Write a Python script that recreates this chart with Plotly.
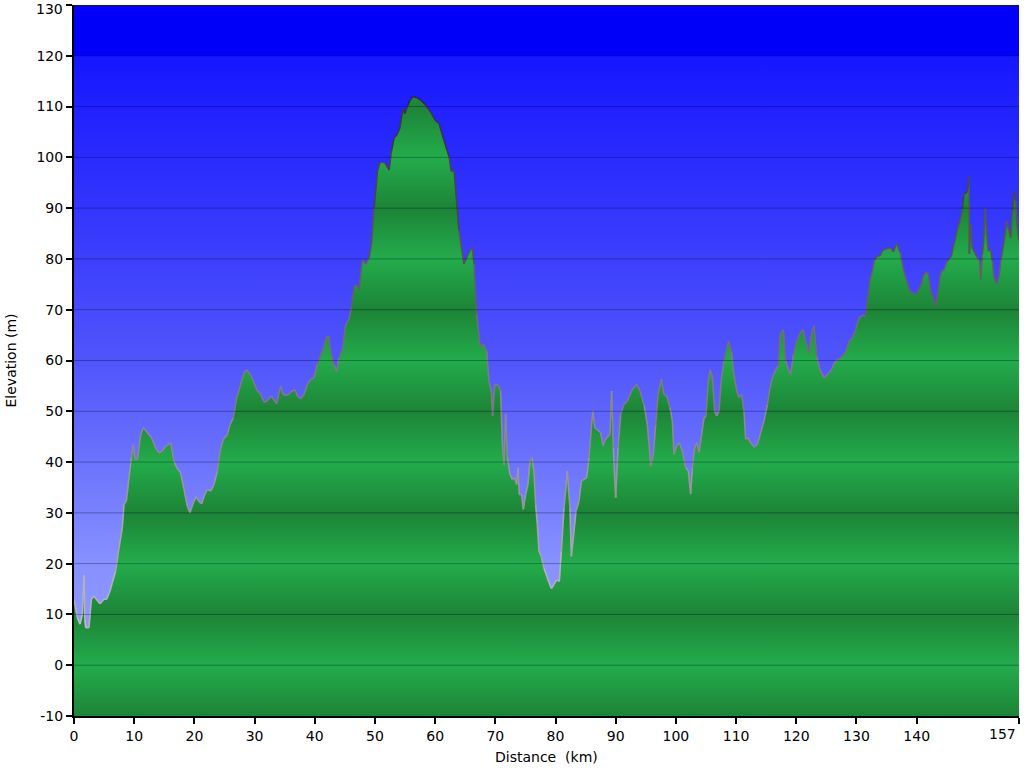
import plotly.graph_objects as go

# ---------------- data ----------------
distance_km = [
    0.0, 0.55, 1.0, 1.38, 1.66, 1.8, 1.94, 2.49, 2.88, 3.32, 4.32, 4.98, 5.43, 5.98, 6.37, 6.92,
    7.48, 8.03, 8.31, 8.69, 9.14, 9.53, 9.86, 10.13, 10.52, 11.08, 11.52, 12.18, 12.85, 13.57,
    14.12, 14.68, 15.23, 16.06, 16.61, 17.06, 17.72, 18.28, 18.83, 19.27, 19.83, 20.27, 20.77,
    21.21, 21.71, 22.15, 22.71, 23.26, 23.81, 24.26, 24.81, 25.47, 25.92, 26.47, 27.03, 27.69,
    28.24, 28.69, 29.35, 29.91, 30.46, 30.90,
    31.57, 32.01, 32.79, 33.67, 34.34, 34.78, 35.56, 36.0, 36.72, 37.11, 37.66, 38.22, 38.77,
    39.32, 39.88, 40.43, 41.1, 41.54, 41.87, 42.31, 42.65, 43.2, 43.64, 44.03, 44.64, 45.14,
    45.69, 46.08, 46.52, 46.97, 47.35, 47.91, 48.46, 49.01, 49.4, 49.85, 50.4, 50.84, 51.62,
    52.34, 52.73, 53.17, 53.61, 54.11, 54.66, 54.94, 55.49, 55.94, 56.38, 56.93, 57.6, 58.43,
    59.26, 60.09, 60.64, 61.2, 62.03, 62.31, 62.69, 63.14,
    63.96, 64.79, 65.62, 66.18, 66.45, 66.9, 67.45, 68.11, 68.56, 68.94, 69.33, 69.55, 69.89,
    70.44, 70.88, 71.16, 71.44, 71.71, 71.99, 72.43, 72.82, 73.21, 73.54, 73.76, 73.98, 74.37,
    74.65, 75.04, 75.42, 75.76, 76.09, 76.42, 76.7, 76.98, 77.25, 77.64, 78.08, 78.64, 79.3,
    79.74, 80.19, 80.63, 80.96, 81.41, 81.96, 82.4, 82.62, 82.96, 83.4, 83.9, 84.29, 84.73,
    85.17, 85.56, 85.95, 86.22, 86.5, 86.94, 87.5, 87.88, 88.33, 89.05, 89.32, 89.6, 89.99,
    90.38, 90.82, 91.37, 91.93, 92.76, 93.48, 94.03,
    94.7, 95.25, 95.53, 95.81, 96.25, 96.64, 97.03, 97.58, 98.02, 98.47, 99.02, 99.41, 99.68,
    100.13, 100.57, 101.07, 101.62, 102.07, 102.45, 102.73, 103.12, 103.45, 103.84, 104.23,
    104.67, 105.0, 105.33, 105.67, 106.05, 106.44, 106.77, 107.16, 107.55, 107.99, 108.43,
    108.77, 109.21, 109.65, 110.1, 110.48, 110.93, 111.31, 111.59, 111.98, 112.42, 112.98,
    113.53, 114.08, 114.64, 115.19, 115.63, 116.02, 116.58, 117.02, 117.3, 117.85, 118.24,
    118.62, 119.07, 119.51, 120.06, 120.62, 121.12, 121.56, 122.11, 122.5, 122.94, 123.39,
    123.94, 124.61, 125.44, 125.99,
    126.27, 126.93, 127.65, 128.21, 128.76, 129.32, 129.87, 130.42, 130.98, 131.53, 131.81,
    132.25, 132.64, 133.03, 133.47, 133.91, 134.3, 134.85, 135.41, 135.8, 136.13, 136.68,
    137.24, 137.79, 138.34, 138.9, 139.45, 140.0, 140.45, 140.84, 141.11, 141.5, 141.94,
    142.33, 142.77, 143.16, 143.55, 143.99, 144.55, 145.1, 145.76, 146.1, 146.48, 146.87,
    147.2, 147.59, 147.87, 148.31, 148.53, 148.7, 148.75, 148.98, 149.25, 149.64, 150.08,
    150.47, 150.64, 150.91, 151.19, 151.41, 151.63, 151.91, 152.3, 152.58, 152.85, 153.3,
    153.68, 154.07, 154.51, 154.96, 155.23, 155.62, 155.9, 156.17, 156.45, 156.73, 157.0,
]
elevation_m = [
    13.0, 9.4, 8.1, 10.0, 17.7, 9.0, 7.4, 7.4, 13.0, 13.6, 12.1, 13.0, 13.0, 14.6, 16.3, 18.6,
    23.1, 27.1, 31.7, 32.3, 36.9, 40.9, 43.5, 40.5, 40.5, 45.4, 46.8, 45.8, 44.9, 42.8,
    41.8, 42.2, 43.1, 43.8, 40.2, 38.9, 37.9, 34.6, 31.3, 30.0, 32.0, 33.2, 32.2,
    31.8, 33.6, 34.6, 34.3, 35.6, 38.2, 42.2, 44.5, 45.4, 47.4, 48.7, 52.7, 55.3,
    57.6, 58.2, 57.2, 55.6, 54.0, 53.6,
    51.8, 52.0, 53.0, 51.5, 55.0, 53.2, 53.2, 53.8, 54.3, 53.0, 52.5, 53.3, 55.3,
    56.3, 56.6, 59.2, 61.5, 62.8, 64.6, 64.8, 61.8, 59.2, 57.8, 60.5, 62.5, 67.1,
    68.1, 70.4, 74.6, 74.9, 74.0, 79.9, 79.0, 80.2, 82.8, 90.0, 97.2, 99.1, 99.0,
    97.5, 101.2, 103.8, 104.4, 105.7, 109.7, 108.6, 110.3, 111.5, 112.0, 111.8, 111.3, 110.3,
    108.9, 107.2, 106.7, 104.4, 101.2, 100.2, 97.2, 97.5,
    85.6, 79.0, 81.3, 82.3, 79.0, 69.1, 62.9, 63.2, 61.9, 56.0, 54.0, 49.1, 55.3,
    55.2, 54.0, 43.5, 39.5, 49.4, 40.9, 37.6, 36.6, 36.9, 35.6, 38.9, 33.6, 33.6,
    30.7, 33.6, 35.6, 40.2, 40.9, 38.2, 31.6, 27.7, 22.4, 21.4, 19.1, 17.2, 15.1,
    15.9, 16.8, 16.5, 22.4, 31.0, 38.2, 31.0, 21.4, 25.1, 30.3, 32.3, 36.3, 36.6,
    36.9, 40.9, 46.8, 50.1, 46.8, 46.4, 45.8, 43.2, 44.5, 45.5, 54.0, 42.8, 33.0,
    42.8, 49.4, 51.4, 52.0, 54.3, 55.3, 54.0,
    51.3, 47.4, 43.5, 39.2, 41.5, 47.4, 53.3, 56.3, 53.3, 53.0, 50.7, 48.1, 41.5,
    43.2, 43.8, 42.2, 38.9, 38.3, 33.7, 38.9, 42.8, 43.8, 41.9, 45.1,
    48.7, 49.1, 55.3, 58.2, 56.9, 50.0, 49.1, 50.0, 56.3, 59.9, 62.5,
    63.8, 61.8, 57.2, 54.0, 52.7, 53.3, 50.0, 44.5, 44.8, 43.8, 43.0,
    43.5, 45.8, 48.1, 51.3, 54.6, 56.6, 58.2, 58.9, 65.1, 66.1, 59.9,
    58.5, 57.2, 61.2, 63.8, 65.4, 66.1, 63.8, 61.5, 65.1, 66.9, 60.8,
    58.2, 56.6, 57.6, 58.5,
    59.5, 60.2, 60.9, 61.8, 63.8, 64.5, 66.1, 68.4, 68.9, 68.8, 71.7,
    76.0, 77.6, 79.9, 80.6, 80.6, 81.7, 82.0, 82.2, 82.1, 81.4, 83.2,
    81.3, 78.0, 75.7, 73.7, 73.2, 73.3, 74.3, 75.3, 76.6, 77.5, 77.0,
    73.7, 72.4, 70.7, 73.7, 77.3, 78.0, 79.6, 80.6, 82.6, 84.2, 86.5,
    87.5, 89.8, 92.9, 93.0, 94.1, 96.2, 81.0, 86.8, 82.2, 81.3, 80.3,
    79.6, 76.0, 80.9, 84.9, 90.1, 85.5, 81.6, 81.9, 79.6, 76.3, 75.1,
    76.6, 80.3, 83.6, 87.5, 86.2, 84.2, 89.5, 93.4, 91.4, 86.2, 83.6,
]

x_range = [0, 157]
y_range = [-10, 130]
x_tickvals = [0, 10, 20, 30, 40, 50, 60, 70, 80, 90, 100, 110, 120, 130, 140, 157]
y_tickvals = list(range(-10, 131, 10))
x_title = "Distance\u00a0\u00a0(km)"
y_title = "Elevation (m)"

FONT = "DejaVu Sans, Verdana, sans-serif"
FS = 14

fig = go.Figure()

def frac(v):
    return (v - y_range[0]) / (y_range[1] - y_range[0])

# ---------------- sky background (vertical gradient) ----------------
sky_scale = [
    [0.0, "rgb(150,160,255)"],
    [frac(20), "rgb(135,145,255)"],
    [frac(60), "rgb(80,85,250)"],
    [frac(119.9), "rgb(22,22,255)"],
    [frac(120), "rgb(0,0,250)"],
    [1.0, "rgb(0,0,250)"],
]
fig.add_trace(go.Scatter(
    x=[x_range[0], x_range[1], x_range[1], x_range[0]],
    y=[y_range[0], y_range[0], y_range[1], y_range[1]],
    mode="none", fill="toself",
    fillgradient=dict(type="vertical", colorscale=sky_scale,
                      start=y_range[0], stop=y_range[1]),
    hoverinfo="skip", showlegend=False,
))

# ---------------- green terrain fill with 20 m banding ----------------
light_g = "rgb(35,172,75)"
dark_g = "rgb(29,132,55)"
green_scale = [[frac(v), dark_g if (v // 10) % 2 else light_g] for v in y_tickvals]
fig.add_trace(go.Scatter(
    x=distance_km + [x_range[1], x_range[0]],
    y=elevation_m + [y_range[0], y_range[0]],
    mode="none", fill="toself",
    fillgradient=dict(type="vertical", colorscale=green_scale,
                      start=y_range[0], stop=y_range[1]),
    hoverinfo="skip", showlegend=False,
))

# ---------------- outline, grey shade depending on height ----------------
bins = {}
for i in range(len(distance_km) - 1):
    mid = (elevation_m[i] + elevation_m[i + 1]) / 2
    b = int(mid // 10)
    xs, ys = bins.setdefault(b, ([], []))
    xs += [distance_km[i], distance_km[i + 1], None]
    ys += [elevation_m[i], elevation_m[i + 1], None]
for b, (xs, ys) in sorted(bins.items()):
    m = b * 10 + 5
    g = int(max(45, min(190, 200 - 1.35 * m)))
    fig.add_trace(go.Scatter(
        x=xs, y=ys, mode="lines",
        line=dict(color=f"rgb({g},{g},{g})", width=1.6),
        hoverinfo="skip", showlegend=False,
    ))

# ---------------- grid lines drawn above the fills ----------------
shapes = [dict(type="line", xref="paper", x0=0, x1=1, yref="y", y0=v, y1=v,
               line=dict(color="rgba(0,0,30,0.32)", width=1), layer="above")
          for v in y_tickvals[1:-1]]

# edge labels placed as annotations so they stay inside the picture
x_ticktext = [str(v) for v in x_tickvals]
last_label = x_ticktext[-1]
x_ticktext[-1] = ""
y_ticktext = [str(v) for v in y_tickvals]
top_label = y_ticktext[-1]
y_ticktext[-1] = ""

annotations = [
    dict(text=y_title, xref="paper", yref="paper", x=0, y=0.5, xanchor="center",
         yanchor="middle", xshift=-64, textangle=-90, showarrow=False,
         font=dict(family=FONT, size=FS, color="black")),
    dict(text=x_title, xref="paper", yref="paper", x=0.5, y=0, xanchor="center",
         yanchor="middle", yshift=-41, showarrow=False,
         font=dict(family=FONT, size=FS, color="black")),
    dict(text=top_label, xref="paper", yref="y", x=0, y=y_tickvals[-1], xanchor="right",
         yanchor="middle", xshift=-9, yshift=-4, showarrow=False,
         font=dict(family=FONT, size=FS, color="black")),
    dict(text=last_label, xref="x", yref="paper", x=x_tickvals[-1], y=0, xanchor="right",
         yanchor="top", xshift=-1, yshift=-8, showarrow=False,
         font=dict(family=FONT, size=FS, color="black")),
]

axis_common = dict(
    showgrid=False, zeroline=False,
    showline=True, linecolor="black", linewidth=2,
    ticks="outside", ticklen=6, tickwidth=2, tickcolor="black",
    tickfont=dict(family=FONT, size=FS, color="black"),
    automargin=False, ticklabeloverflow="allow",
    layer="above traces", fixedrange=True,
)

fig.update_layout(
    width=1024, height=768,
    margin=dict(l=74, r=5, t=5, b=52),
    paper_bgcolor="white", plot_bgcolor="white",
    shapes=shapes, annotations=annotations,
    font=dict(family=FONT, size=FS, color="black"),
    showlegend=False,
    xaxis=dict(range=x_range, tickvals=x_tickvals, ticktext=x_ticktext, **axis_common),
    yaxis=dict(range=y_range, tickvals=y_tickvals, ticktext=y_ticktext, **axis_common),
)

fig.write_html(
    "out.html",
    config={"displayModeBar": False, "staticPlot": True},
    post_script="document.body.style.margin='0';document.body.style.overflow='hidden';",
)
